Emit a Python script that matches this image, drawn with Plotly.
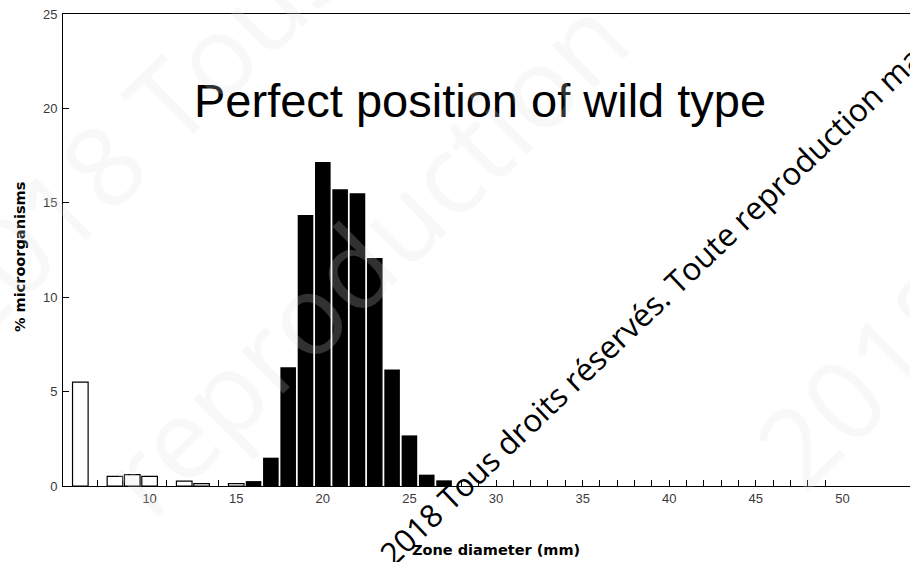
import plotly.graph_objects as go

# Inhibition zone diameter distribution (mm) and share of isolates per bin (%)
zone_diameter = [6, 7, 8, 9, 10, 11, 12, 13, 14, 15, 16, 17, 18, 19, 20, 21, 22, 23, 24, 25, 26, 27,
                 28, 29, 30, 31, 32, 33, 34, 35, 36, 37, 38, 39, 40, 41, 42, 43, 44, 45, 46, 47, 48, 49]
pct_microorganisms = [5.5, 0, 0.51, 0.6, 0.51, 0, 0.26, 0.13, 0, 0.13, 0.26, 1.5, 6.29, 14.36, 17.16,
                      15.72, 15.5, 12.07, 6.17, 2.68, 0.6, 0.3,
                      0, 0, 0, 0, 0, 0, 0, 0, 0, 0, 0, 0, 0, 0, 0, 0, 0, 0, 0, 0, 0, 0]
wild_type_min = 16          # first bin of the wild-type population
x_tick_labels = [10, 15, 20, 25, 30, 35, 40, 45, 50]
y_tick_labels = [0, 5, 10, 15, 20, 25]

W, H = 910, 562
L, R, T, B = 63, 0, 14, 76
plot_w, plot_h = W - L - R, H - T - B


def px_x(px):
    return (px - L) / plot_w


def px_y(py):
    return (H - B - py) / plot_h


non_wt = [(d, v) for d, v in zip(zone_diameter, pct_microorganisms) if d < wild_type_min and v > 0]
wt = [(d, v) for d, v in zip(zone_diameter, pct_microorganisms) if d >= wild_type_min and v > 0]
empty_bins = [d for d, v in zip(zone_diameter, pct_microorganisms) if v == 0]

fig = go.Figure()
fig.add_trace(go.Bar(
    x=[d for d, _ in non_wt], y=[v for _, v in non_wt], width=0.9,
    marker=dict(color="white", line=dict(color="black", width=1.2)),
    hoverinfo="x+y",
))
fig.add_trace(go.Bar(
    x=[d for d, _ in wt], y=[v for _, v in wt], width=0.9,
    marker=dict(color="black", line=dict(color="black", width=0)),
    hoverinfo="x+y",
))
# empty bins are marked by short ticks on an overlaid axis
fig.add_trace(go.Scatter(
    x=empty_bins, y=[0] * len(empty_bins), xaxis="x2", mode="markers",
    marker=dict(opacity=0), hoverinfo="skip",
))

tick_font = dict(family="Liberation Sans, Arial, sans-serif", size=13, color="#3a3a3a")

fig.update_layout(
    width=W, height=H,
    margin=dict(l=L, r=R, t=T, b=B, pad=0),
    plot_bgcolor="white", paper_bgcolor="white",
    showlegend=False, barmode="overlay",
    xaxis=dict(
        range=[5, 53.9], showline=True, linecolor="black", linewidth=1, mirror=True,
        ticks="", tickmode="array", tickvals=x_tick_labels, tickfont=tick_font,
        showgrid=False, zeroline=False,
    ),
    xaxis2=dict(
        overlaying="x", matches="x", anchor="y", side="bottom",
        ticks="inside", ticklen=6, tickwidth=1, tickcolor="black",
        tickmode="array", tickvals=empty_bins, showticklabels=False,
        showline=False, showgrid=False, zeroline=False,
    ),
    yaxis=dict(
        range=[0, 25], showline=True, linecolor="black", linewidth=1,
        ticks="inside", ticklen=6, tickcolor="black", tickmode="array", tickvals=y_tick_labels,
        tickfont=tick_font, ticklabelstandoff=2,
        showgrid=False, zeroline=False,
    ),
)

annotations = [
    dict(text="Perfect position of wild type", x=px_x(480), y=px_y(101),
         font=dict(family="Liberation Sans, Arial, sans-serif", size=47, color="black")),
    dict(text="<b>% microorganisms</b>", x=px_x(20), y=px_y(257), textangle=-90,
         font=dict(family="DejaVu Sans, Verdana, sans-serif", size=14.5, color="black")),
    dict(text="<b>Zone diameter (mm)</b>", x=px_x(496), y=px_y(550),
         font=dict(family="DejaVu Sans, Verdana, sans-serif", size=14.5, color="black")),
]

# faint background copyright marks
faint = "rgba(225,225,225,0.22)"
for txt, cx, cy in [("2018 Tous", 133, 133), ("reproduction", 363, 255), ("2018", 865, 376)]:
    annotations.append(dict(text=txt, x=px_x(cx), y=px_y(cy), textangle=-44.5,
                            font=dict(family="Open Sans, sans-serif", size=111, color=faint)))

# foreground copyright line
annotations.append(dict(text="2018 Tous droits réservés. Toute reproduction ma",
                        x=px_x(650), y=px_y(305), textangle=-43.6,
                        font=dict(family="Open Sans, sans-serif", size=31.5, color="black")))

for a in annotations:
    a.update(xref="paper", yref="paper", showarrow=False, xanchor="center", yanchor="middle")
fig.update_layout(annotations=annotations)

fig.write_html("out.html")
